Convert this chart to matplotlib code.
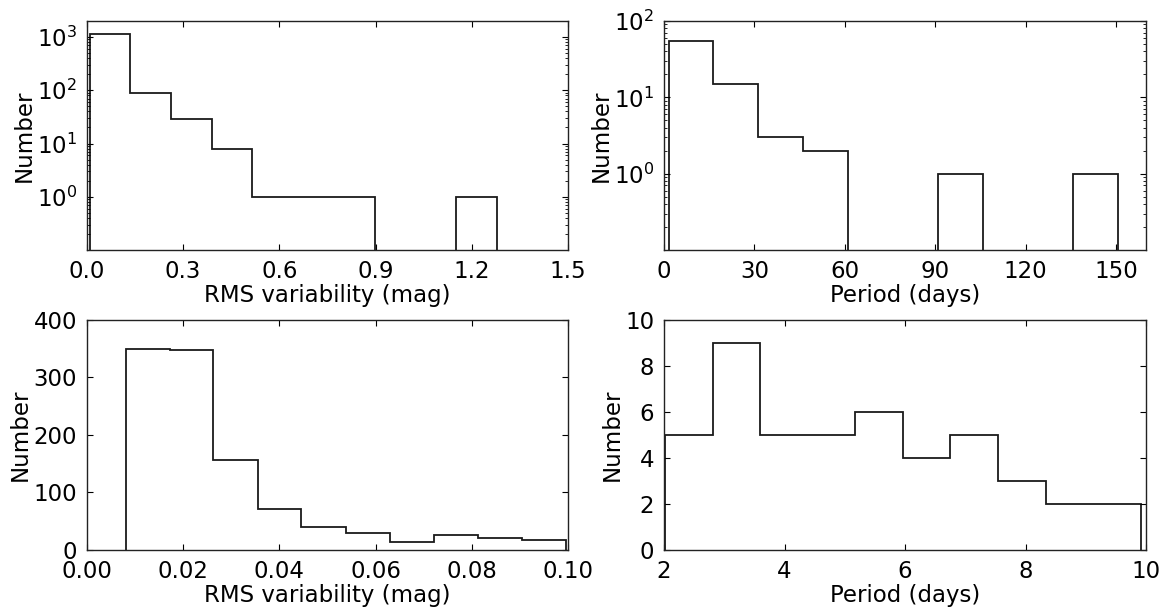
import matplotlib
matplotlib.use("Agg")
import matplotlib.pyplot as plt
from matplotlib.ticker import LogLocator, NullFormatter
import numpy as np

# RMS variability, full range (log counts)
rms_all_edges = [0.008, 0.135, 0.262, 0.389, 0.516, 0.643, 0.770, 0.897, 1.024, 1.151, 1.278]
rms_all_counts = [1130, 87, 29, 8, 1, 1, 1, 0, 0, 1]

# period, full range (log counts)
per_all_edges = [1.5, 16.4, 31.3, 46.2, 61.1, 76.0, 90.9, 105.8, 120.7, 135.6, 150.5]
per_all_counts = [55, 15, 3, 2, 0, 0, 1, 0, 0, 1]

# RMS variability below 0.1 mag
rms_low_edges = [0.0081, 0.0172, 0.0263, 0.0355, 0.0446, 0.0538, 0.0629, 0.0721, 0.0812, 0.0904, 0.0995]
rms_low_counts = [350, 347, 156, 72, 40, 30, 14, 26, 21, 18]

# period below 10 days
per_low_edges = [2.02, 2.81, 3.60, 4.39, 5.17, 5.96, 6.75, 7.54, 8.33, 9.12, 9.91]
per_low_counts = [5, 9, 5, 5, 6, 4, 5, 3, 2, 2]

plt.rcParams.update({
    "font.family": "DejaVu Sans",
    "font.size": 16.5,
    "xtick.direction": "in",
    "ytick.direction": "in",
    "xtick.top": True,
    "ytick.right": True,
    "xtick.major.size": 4,
    "ytick.major.size": 4,
    "xtick.minor.size": 2,
    "ytick.minor.size": 2,
    "xtick.major.pad": 7,
    "ytick.major.pad": 7,
    "axes.linewidth": 1.0,
    "axes.edgecolor": "#222222",
})

fig = plt.figure(figsize=(11.66, 6.08), dpi=100, facecolor="white")
ax1 = fig.add_axes([0.0746, 0.5888, 0.4125, 0.3767])
ax2 = fig.add_axes([0.5695, 0.5888, 0.4135, 0.3767])
ax3 = fig.add_axes([0.0746, 0.0954, 0.4125, 0.3783])
ax4 = fig.add_axes([0.5695, 0.0954, 0.4135, 0.3783])

lw = 1.3
col = "#1a1a1a"

ax1.set_yscale("log")
ax1.stairs(rms_all_counts, rms_all_edges, baseline=0, color=col, lw=lw)
ax1.set_xlim(0, 1.5)
ax1.set_ylim(0.1, 2000)
ax1.set_xticks(np.arange(0, 1.51, 0.3))
ax1.set_xticklabels(["0.0", "0.3", "0.6", "0.9", "1.2", "1.5"])
ax1.set_yticks([1, 10, 100, 1000])
ax1.set_xlabel("RMS variability (mag)")
ax1.set_ylabel("Number")

ax2.set_yscale("log")
ax2.stairs(per_all_counts, per_all_edges, baseline=0, color=col, lw=lw)
ax2.set_xlim(0, 160)
ax2.set_ylim(0.1, 100)
ax2.set_xticks(np.arange(0, 151, 30))
ax2.set_yticks([1, 10, 100])
ax2.set_xlabel("Period (days)")
ax2.set_ylabel("Number")

for ax in (ax1, ax2):
    ax.yaxis.set_minor_locator(LogLocator(base=10, subs=np.arange(2, 10), numticks=100))
    ax.yaxis.set_minor_formatter(NullFormatter())

ax3.stairs(rms_low_counts, rms_low_edges, baseline=0, color=col, lw=lw)
ax3.set_xlim(0, 0.1)
ax3.set_ylim(0, 400)
ax3.set_xticks(np.arange(0, 0.101, 0.02))
ax3.set_xticklabels(["0.00", "0.02", "0.04", "0.06", "0.08", "0.10"])
ax3.set_yticks(np.arange(0, 401, 100))
ax3.set_xlabel("RMS variability (mag)")
ax3.set_ylabel("Number")

ax4.stairs(per_low_counts, per_low_edges, baseline=0, color=col, lw=lw)
ax4.set_xlim(2, 10)
ax4.set_ylim(0, 10)
ax4.set_xticks(np.arange(2, 11, 2))
ax4.set_yticks(np.arange(0, 11, 2))
ax4.set_xlabel("Period (days)")
ax4.set_ylabel("Number")

for ax in (ax1, ax2, ax3, ax4):
    ax.xaxis.labelpad = 1
    ax.yaxis.labelpad = 1

fig.savefig("out.png", dpi=100, facecolor="white")
